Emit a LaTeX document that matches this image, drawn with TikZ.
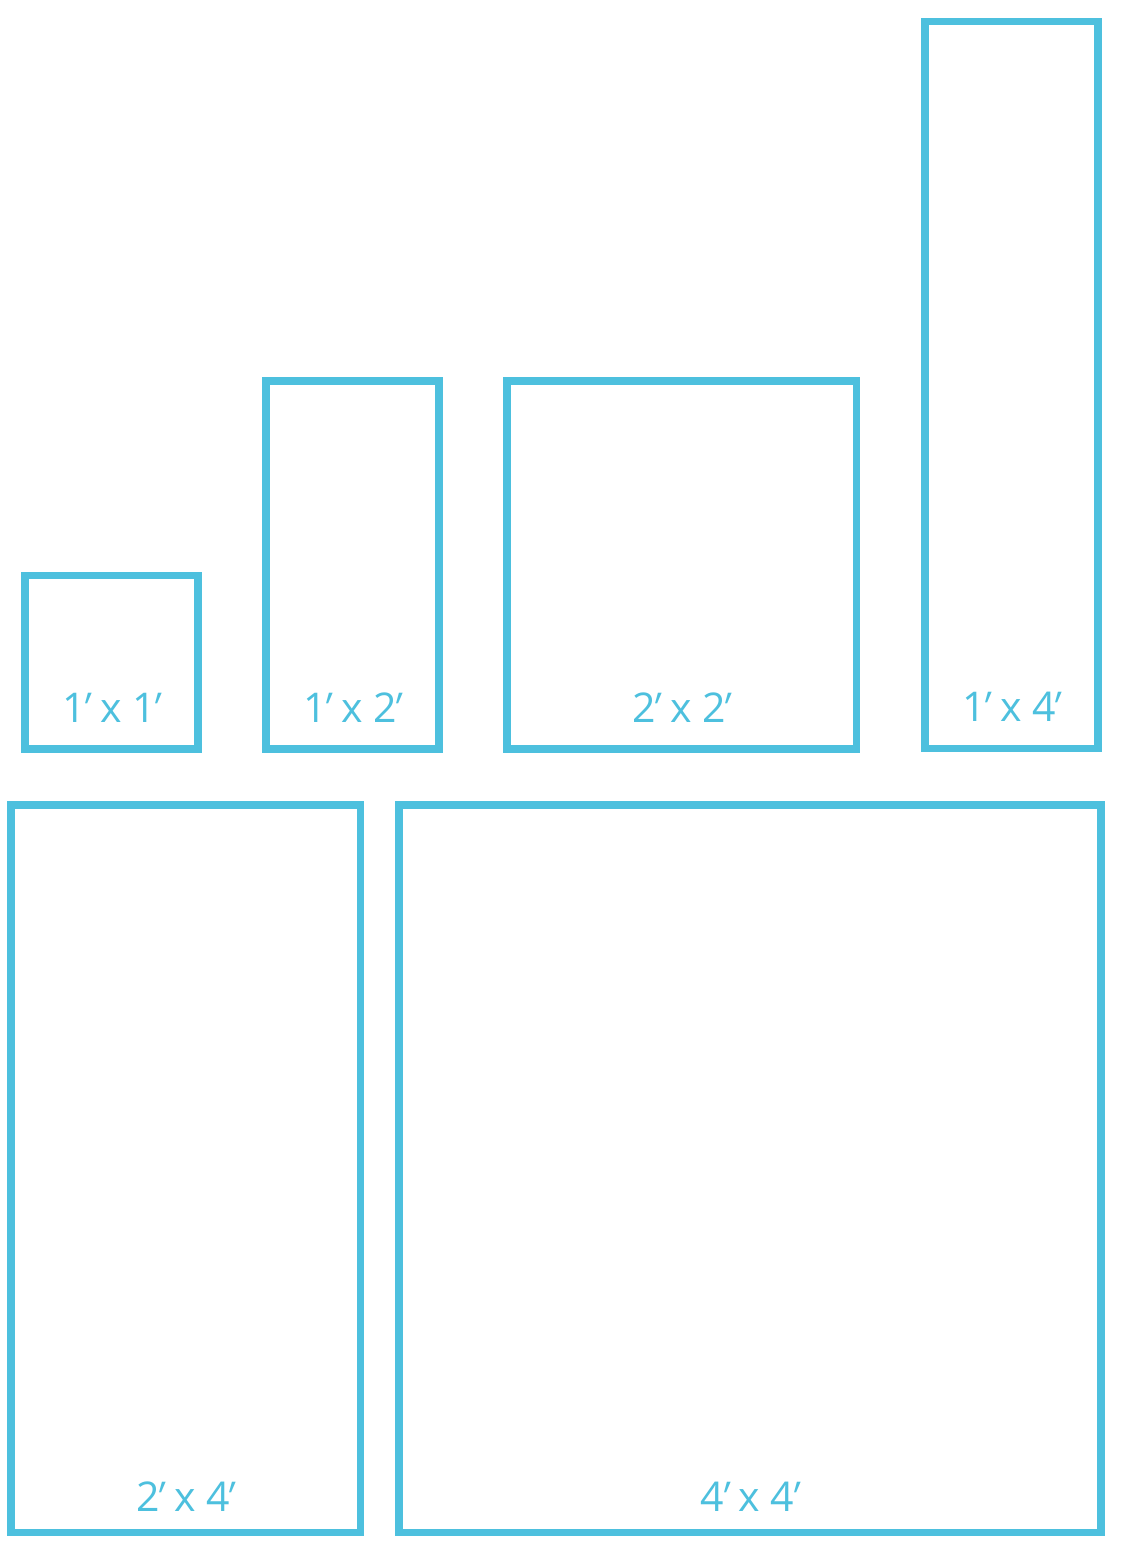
\documentclass[tikz,border=0pt]{standalone}
\usepackage{fontspec}
\setmainfont{Open Sans}
\newfontfamily\primefont[FakeSlant=0.35]{Open Sans}
\newcommand\ftprime{\kern-10pt{\primefont ′}\kern5pt}
\newcommand\ftprimeend{\kern-10pt{\primefont ′}\kern-2pt}
\definecolor{tileblue}{RGB}{77,192,222}
\begin{document}
\begin{tikzpicture}[x=1pt,y=-1pt,
  tile/.style={draw=tileblue,line width=7.5pt},
  lbl/.style={text=tileblue,font=\fontsize{41}{41}\selectfont,anchor=base,inner sep=0pt,xshift=-4pt}]
\useasboundingbox[fill=white] (0,0) rectangle (1128,1541);
\draw[tile] (25,575.5) rectangle (198,749);
\draw[tile] (266,381) rectangle (439,749);
\draw[tile] (507,381) rectangle (856.5,749);
\draw[tile] (925,21.5) rectangle (1098,748.5);
\draw[tile] (11,805) rectangle (360.5,1532.5);
\draw[tile] (399,805) rectangle (1101,1532.5);
\node[lbl] (t1) at (111.5,722) {1\ftprime{} x 1\ftprimeend};
\node[lbl] (t2) at (352.5,722) {1\ftprime{} x 2\ftprimeend};
\node[lbl] (t3) at (681.5,722) {2\ftprime{} x 2\ftprimeend};
\node[lbl] (t4) at (1011.5,721) {1\ftprime{} x 4\ftprimeend};
\node[lbl] (t5) at (185.5,1511) {2\ftprime{} x 4\ftprimeend};
\node[lbl] (t6) at (750,1511) {4\ftprime{} x 4\ftprimeend};
\end{tikzpicture}
\end{document}
